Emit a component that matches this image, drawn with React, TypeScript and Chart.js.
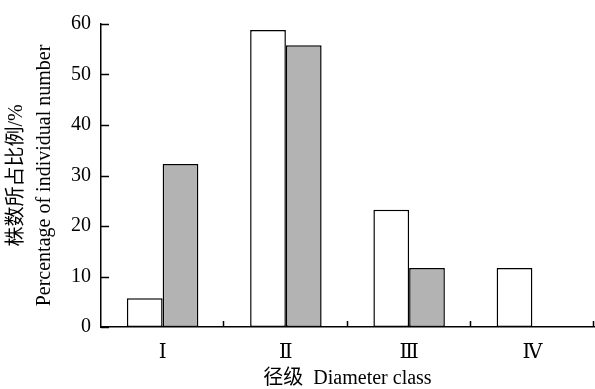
import React, { useEffect, useRef } from "react";
import { Chart, registerables } from "chart.js";

Chart.register(...registerables);

const categories = ["Ⅰ", "Ⅱ", "Ⅲ", "Ⅳ"];
const whiteSeries = [5.7, 58.8, 23.2, 11.7];
const graySeries: (number | null)[] = [32.3, 55.8, 11.7, null];
const yTicks = [0, 10, 20, 30, 40, 50, 60];

const FONT = '"Liberation Serif", "DejaVu Serif", "Noto Sans CJK SC", serif';

const innerTicks = {
  id: "innerTicks",
  afterDraw(chart: any) {
    const { ctx } = chart;
    const y = chart.scales.y;
    const x = chart.scales.x;
    ctx.save();
    ctx.strokeStyle = "#000";
    ctx.lineWidth = 1.5;
    ctx.beginPath();
    const left = chart.chartArea.left;
    for (const v of yTicks) {
      const py = Math.round(y.getPixelForValue(v)) + 0.5;
      ctx.moveTo(left, py);
      ctx.lineTo(left + 8, py);
    }
    const bottom = chart.chartArea.bottom;
    const n = categories.length;
    const step = x.getPixelForValue(1) - x.getPixelForValue(0);
    for (let i = 0; i < n; i++) {
      const px = Math.round(x.getPixelForValue(i) + step / 2) - 0.5;
      ctx.moveTo(px, bottom);
      ctx.lineTo(px, bottom - 6);
    }
    ctx.stroke();
    ctx.restore();
  },
};

export default function App() {
  const ref = useRef<HTMLCanvasElement | null>(null);
  useEffect(() => {
    if (!ref.current) return;
    const chart = new Chart(ref.current, {
      type: "bar",
      data: {
        labels: categories,
        datasets: [
          {
            data: whiteSeries,
            backgroundColor: "#ffffff",
            borderColor: "#000000",
            borderWidth: 1.5,
            borderSkipped: false,
            categoryPercentage: 0.58,
            barPercentage: 1.0,
          },
          {
            data: graySeries,
            backgroundColor: "#b3b3b3",
            borderColor: "#000000",
            borderWidth: 1.5,
            borderSkipped: false,
            categoryPercentage: 0.58,
            barPercentage: 1.0,
          },
        ],
      },
      options: {
        responsive: false,
        animation: false,
        layout: { padding: { top: 24, right: 1, left: 0, bottom: 0 } },
        plugins: { legend: { display: false }, tooltip: { enabled: false } },
        scales: {
          x: {
            offset: true,
            grid: { display: false, drawTicks: false },
            border: { display: true, color: "#000", width: 1.5 },
            ticks: { color: "#000", font: { family: FONT, size: 20 }, padding: 14 },
            title: {
              display: true,
              text: "径级  Diameter class",
              color: "#000",
              font: { family: FONT, size: 20, lineHeight: 1.05 },
              padding: { top: 0, bottom: 0 },
            },
            afterFit(scale: any) {
              scale.height = 62;
            },
          },
          y: {
            min: 0,
            max: 60,
            afterBuildTicks(scale: any) {
              scale.ticks = yTicks.map((v) => ({ value: v }));
            },
            grid: { display: false, drawTicks: false },
            border: { display: true, color: "#000", width: 1.5 },
            ticks: { color: "#000", font: { family: FONT, size: 20 }, padding: 10 },
            title: {
              display: true,
              text: ["株数所占比例/%", "Percentage of individual number"],
              color: "#000",
              font: { family: FONT, size: 20, lineHeight: 1.4 },
              padding: { top: 3, bottom: 0 },
            },
            afterFit(scale: any) {
              scale.width = 101;
            },
          },
        },
      },
      plugins: [innerTicks],
    });
    return () => chart.destroy();
  }, []);
  return (
    <div style={{ position: "absolute", left: 0, top: 0, width: 595, height: 389, background: "#fff" }}>
      <canvas ref={ref} width={595} height={389} style={{ width: 595, height: 389, display: "block" }} />
    </div>
  );
}
